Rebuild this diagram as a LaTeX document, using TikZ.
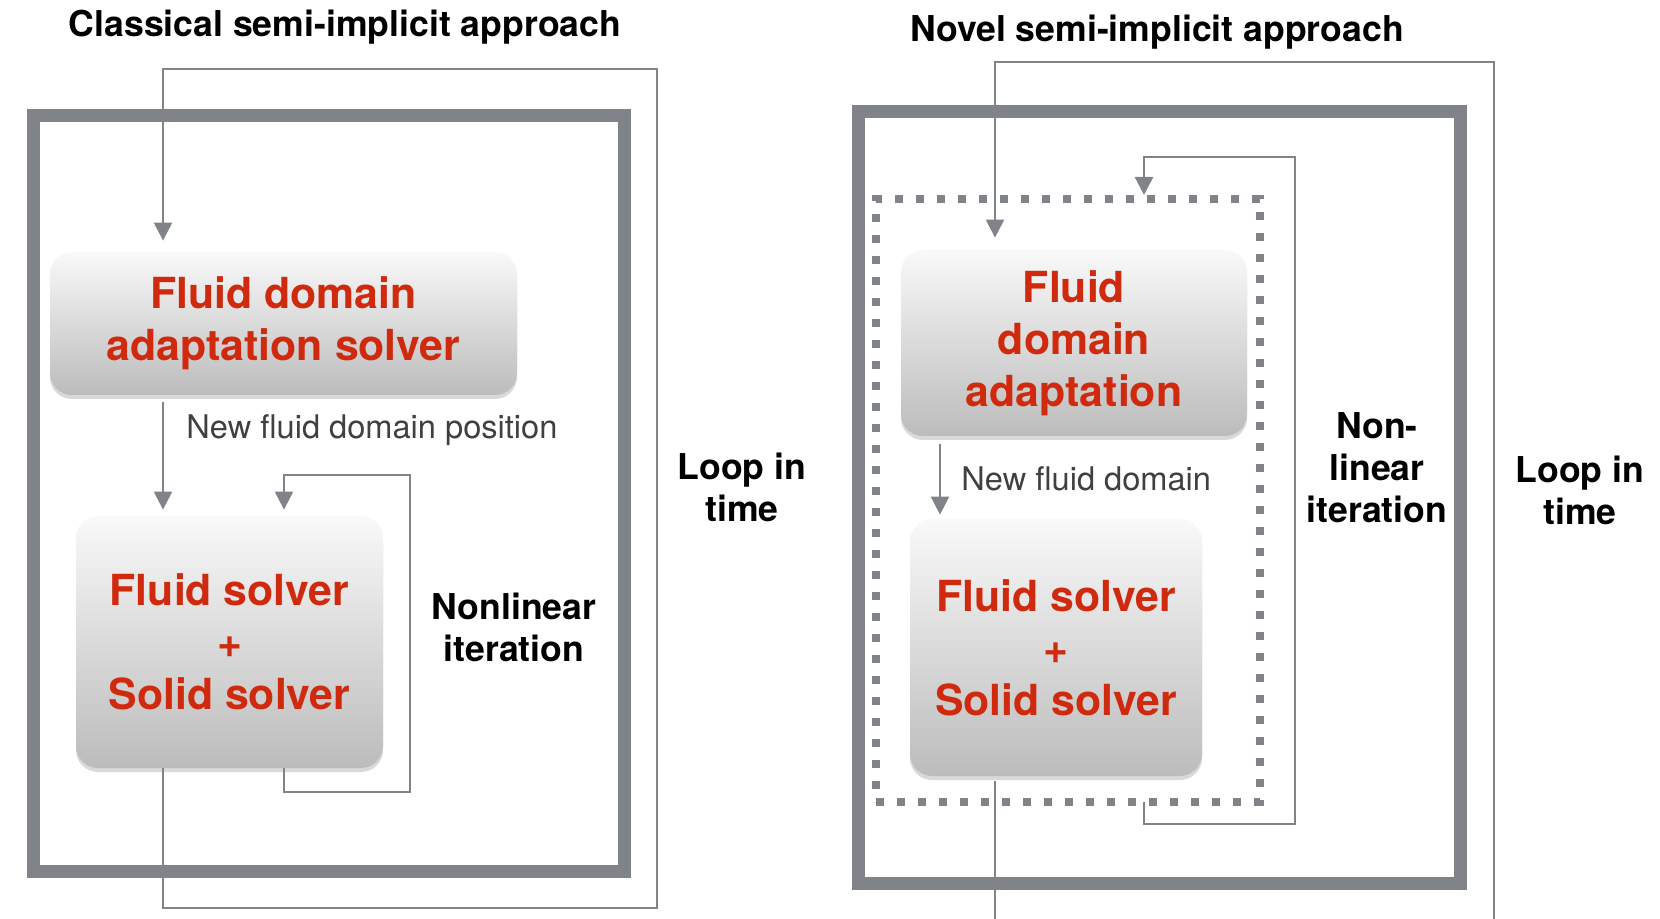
\documentclass[tikz,border=0pt]{standalone}
\usepackage{fontspec}
\setmainfont{TeX Gyre Heros}
\usepackage{tikz}
\usetikzlibrary{calc,arrows.meta,shadows}
\definecolor{linegray}{RGB}{128,131,136}
\definecolor{solvred}{RGB}{208,42,14}
\definecolor{boxtop}{RGB}{249,249,249}
\definecolor{boxbot}{RGB}{188,188,188}
\tikzset{solverbox/.style={rounded corners=11pt,top color=boxtop,bottom color=boxbot,draw=none,
	drop shadow={shadow xshift=0pt,shadow yshift=-2pt,opacity=0.3},
	text=solvred,font=\fontsize{21.4}{26}\selectfont\bfseries,align=center,inner sep=0pt}}
\tikzset{frame/.style={draw=linegray,line width=6.5pt}}
\tikzset{loopline/.style={draw=linegray,line width=1.2pt}}
\tikzset{flow/.style={loopline,-{Triangle[length=9pt,width=9pt]}}}
\tikzset{dotbox/.style={draw=linegray,line width=4.2pt,dash pattern=on 4.2pt off 6.3pt,inner sep=0pt,outer sep=0pt}}
\tikzset{heading/.style={font=\fontsize{17.8}{21}\selectfont\bfseries,align=center}}
\tikzset{note/.style={font=\fontsize{16.3}{19}\selectfont,text=black!75,inner sep=0pt}}

\begin{document}
\begin{tikzpicture}[x=0.5pt,y=-0.5pt]
		\useasboundingbox (0,0) rectangle (1660,919);
		% classical approach
		\node[heading] (titleL) at (345,27) {Classical semi-implicit approach};
		\draw[frame] (33,116) rectangle (624,871);
		\node[solverbox,minimum width=233.5pt,minimum height=71.5pt] (fda) at (283.5,323.5) {Fluid domain\\adaptation solver};
		\node[solverbox,minimum width=153.5pt,minimum height=126pt] (fs) at (229.5,642) {Fluid solver\\+\\Solid solver};
		\coordinate (ltA) at (163,69);
		\coordinate (ltB) at (657,908);
		\draw[flow,shorten >=5.5pt] (fs.south -| ltA) |- (ltB) |- (ltA) -- (fda.north -| ltA);
		\draw[flow,shorten <=3.5pt,shorten >=3pt] (fda.south -| ltA) -- (fs.north -| ltA);
		\node[note,anchor=west] (newposL) at (186,430) {New fluid domain position};
		\coordinate (lnA) at (284,475);
		\coordinate (lnB) at (410,792);
		\draw[flow,shorten >=3pt] (fs.south -| lnA) |- (lnB) |- (lnA) -- (fs.north -| lnA);
		\node[heading] (iterL) at (514,627) {Nonlinear\\iteration};
		\node[heading] (timeL) at (742,487) {Loop in\\time};
		% novel approach
		\node[heading] (titleR) at (1157,32) {Novel semi-implicit approach};
		\draw[frame] (858,112) rectangle (1460,883);
		\node[dotbox,minimum width=192pt,minimum height=301.5pt] (iter) at (1068,500.5) {};
		\node[solverbox,minimum width=173pt,minimum height=93pt] (fda2) at (1074,343) {Fluid\\domain\\adaptation};
		\node[solverbox,minimum width=146pt,minimum height=128.5pt] (fs2) at (1056,647.5) {Fluid solver\\+\\Solid solver};
		\coordinate (rtA) at (995,62);
		\coordinate (rtB) at (1494,919);
		\draw[flow,shorten >=6pt] (rtB) |- (rtA) -- (fda2.north -| rtA);
		\draw[loopline,shorten <=2.5pt] (fs2.south -| rtA) -- (rtA |- rtB);
		\coordinate (mdR) at (940,0);
		\draw[flow,shorten <=4pt,shorten >=2pt] (fda2.south -| mdR) -- (fs2.north -| mdR);
		\node[note,anchor=west] (newposR) at (961,479) {New fluid domain};
		\coordinate (rnA) at (1144,157);
		\coordinate (rnB) at (1295,824);
		\draw[flow,shorten >=2pt] (iter.south -| rnA) |- (rnB) |- (rnA) -- (iter.north -| rnA);
		\node[heading] (iterR) at (1377,468) {Non-\\linear\\iteration};
		\node[heading] (timeR) at (1580,490) {Loop in\\time};
\end{tikzpicture}
\end{document}
